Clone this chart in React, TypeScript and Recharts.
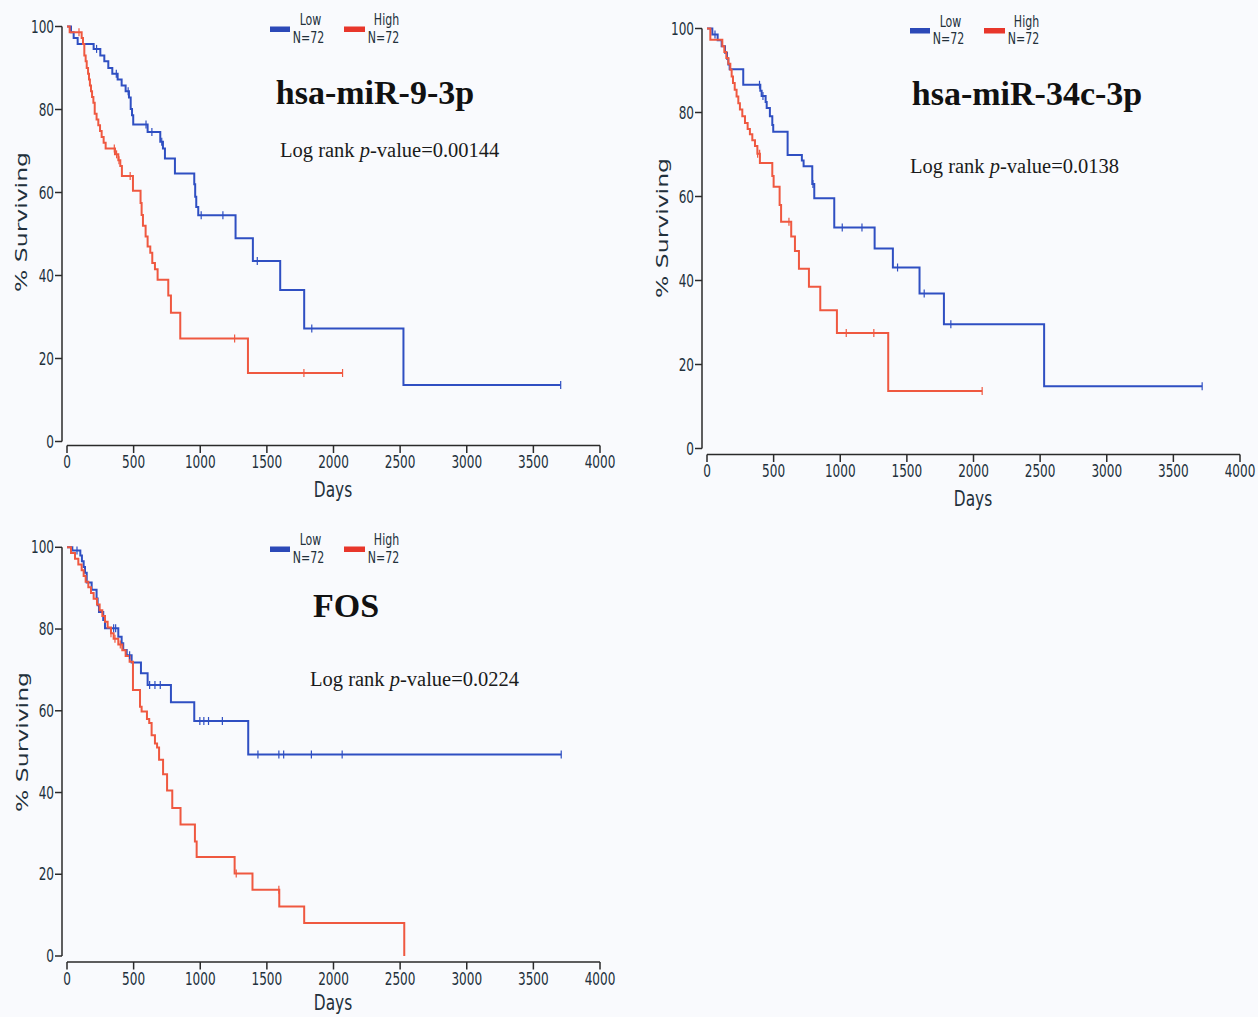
import React from 'react';
import { ComposedChart, Line, Scatter, XAxis, YAxis, Label } from 'recharts';

const DAY_TICKS = [0, 500, 1000, 1500, 2000, 2500, 3000, 3500, 4000];
const PCT_TICKS = [0, 20, 40, 60, 80, 100];

// Kaplan-Meier steps: [day, % surviving from that day on]
const mir9Low = [
  [0, 100], [30, 98.6], [50, 97.2], [80, 95.8], [200, 94.6], [250, 93.0], [280, 91.6], [310, 90.0],
  [340, 88.6], [380, 87.2], [410, 85.8], [440, 84.4], [465, 82.9], [478, 80.1], [488, 78.6], [497, 76.4],
  [605, 74.6], [700, 72.2], [720, 70.6], [735, 68.2], [810, 64.6], [955, 62.0], [962, 59.0], [970, 56.5],
  [985, 54.5], [1265, 49.0], [1395, 43.5], [1600, 36.5], [1780, 27.2], [2525, 13.6], [3705, 13.6],
];
const mir9High = [
  [0, 100], [20, 98.6], [110, 97.2], [120, 95.8], [130, 93.0], [140, 91.6], [148, 90.0], [158, 88.6],
  [165, 87.2], [172, 85.8], [180, 84.4], [188, 83.0], [198, 81.6], [208, 79.0], [222, 77.6], [235, 76.2],
  [248, 74.8], [260, 73.4], [275, 72.0], [290, 70.6], [360, 69.2], [385, 67.8], [400, 66.4], [412, 64.0],
  [495, 60.4], [552, 57.5], [560, 54.6], [570, 52.0], [590, 49.4], [605, 47.0], [625, 45.5], [640, 43.0],
  [660, 41.5], [680, 39.0], [760, 35.2], [780, 31.0], [850, 24.8], [1358, 16.5], [2068, 16.5],
];
const mir9LowCensor = [222, 370, 459, 593, 637, 711, 1007, 1170, 1428, 1837, 3705];
const mir9HighCensor = [90, 355, 372, 390, 474, 1258, 1778, 2068];

const mir34Low = [
  [0, 100], [40, 98.6], [80, 97.2], [110, 95.8], [135, 94.2], [150, 92.8], [160, 91.4], [170, 90.3],
  [272, 86.6], [400, 85.2], [410, 83.9], [440, 82.5], [448, 81.1], [472, 79.1], [490, 77.0], [497, 75.4],
  [605, 69.9], [712, 68.6], [725, 67.2], [790, 63.0], [805, 59.6], [955, 52.6], [1258, 47.6], [1395, 43.1],
  [1595, 36.9], [1778, 29.6], [2530, 14.8], [3716, 14.8],
];
const mir34High = [
  [0, 100], [25, 97.3], [115, 95.8], [130, 94.4], [145, 93.0], [160, 91.6], [175, 90.2], [185, 88.6],
  [195, 87.0], [208, 85.4], [222, 83.8], [235, 82.2], [247, 80.7], [265, 79.1], [285, 77.5], [305, 76.1],
  [322, 74.8], [340, 73.4], [360, 72.0], [378, 70.2], [397, 68.0], [490, 64.9], [500, 62.3], [545, 58.0],
  [556, 54.0], [632, 50.5], [660, 47.0], [690, 42.8], [765, 38.5], [850, 32.9], [975, 27.5], [1360, 13.7],
  [2065, 13.7],
];
const mir34LowCensor = [60, 394, 420, 795, 1015, 1163, 1430, 1630, 1830, 3716];
const mir34HighCensor = [380, 395, 615, 1045, 1252, 2065];

const fosLow = [
  [0, 100], [40, 99.2], [100, 98.0], [112, 96.6], [125, 95.2], [135, 93.8], [148, 91.4], [185, 89.6],
  [222, 87.5], [230, 85.8], [240, 84.2], [272, 82.2], [285, 80.2], [385, 78.1], [410, 76.5], [422, 74.9],
  [448, 73.6], [485, 71.8], [555, 69.2], [605, 66.3], [780, 62.1], [955, 57.5], [1360, 49.3], [3709, 49.3],
];
const fosHigh = [
  [0, 100], [30, 98.6], [60, 97.2], [85, 95.8], [110, 94.4], [125, 93.0], [140, 91.6], [160, 90.2],
  [180, 88.8], [200, 87.4], [225, 86.0], [245, 84.6], [265, 83.2], [285, 81.8], [305, 80.4], [330, 79.0],
  [350, 77.6], [385, 76.2], [415, 74.8], [440, 73.4], [470, 72.0], [495, 65.1], [548, 61.0], [560, 59.8],
  [600, 58.0], [617, 57.0], [635, 54.0], [660, 52.0], [676, 51.0], [691, 48.0], [721, 44.5], [751, 40.5],
  [790, 36.2], [852, 32.2], [960, 28.0], [973, 24.2], [1258, 20.2], [1392, 16.2], [1593, 12.1], [1780, 8.1],
  [2531, 0],
];
const fosLowCensor = [75, 350, 365, 470, 620, 660, 700, 997, 1027, 1062, 1166, 1433, 1590, 1626, 1834, 2065, 3709];
const fosHighCensor = [330, 360, 400, 1270, 1590];

const BLUE = '#2f4fc2';
const RED = '#ef5840';
const AXIS = '#2a2a2a';
const TICK_TEXT = '#22303b';
const BG = '#f9fafd';
const SANS = "'DejaVu Sans', Verdana, sans-serif";
const SERIF = "'Liberation Serif', 'Times New Roman', serif";
const SQUEEZE = 0.71;
const Y_W = 50;
const X_H = 55;

const toPts = (steps: number[][]) => steps.map(([t, s]) => ({ t, s }));
const survivalAt = (steps: number[][], day: number) => {
  let v = steps[0][1];
  for (const [t, s] of steps) if (t <= day) v = s;
  return v;
};
const censorPts = (steps: number[][], days: number[]) => days.map((t) => ({ t, s: survivalAt(steps, t) }));

const panels = [
  {
    title: 'hsa-miR-9-3p', p: '0.00144', low: mir9Low, high: mir9High, lowC: mir9LowCensor, highC: mir9HighCensor,
    box: { x: 0, y: 0, w: 630, h: 515 },
    plot: { left: 62, x0: 67, x1: 600, y100: 26.5, y0: 441.5, axisY: 445.5 },
    yLabel: { x: 21, y: 222 }, daysY: 496.5,
    titleAt: { x: 375, y: 104 }, pAt: { x: 280, y: 157 }, legend: { dx: 0, dy: 0 },
  },
  {
    title: 'hsa-miR-34c-3p', p: '0.0138', low: mir34Low, high: mir34High, lowC: mir34LowCensor, highC: mir34HighCensor,
    box: { x: 640, y: 0, w: 618, h: 520 },
    plot: { left: 702, x0: 707, x1: 1240, y100: 28.5, y0: 448.5, axisY: 454.5 },
    yLabel: { x: 22, y: 228 }, daysY: 506,
    titleAt: { x: 1027, y: 105 }, pAt: { x: 910, y: 173 }, legend: { dx: 640, dy: 1.5 },
  },
  {
    title: 'FOS', p: '0.0224', low: fosLow, high: fosHigh, lowC: fosLowCensor, highC: fosHighCensor,
    box: { x: 0, y: 515, w: 630, h: 502 },
    plot: { left: 62, x0: 67, x1: 600, y100: 547.3, y0: 956, axisY: 962 },
    yLabel: { x: 22, y: 227 }, daysY: 495,
    titleAt: { x: 346, y: 616.5 }, pAt: { x: 310, y: 686 }, legend: { dx: 0, dy: 520 },
  },
];

const XTick = (props: any) => (
  <g transform={`translate(${props.x},${props.y})`}>
    <text transform={`scale(${SQUEEZE},1)`} textAnchor="middle" dy="0.71em" fontSize={17} fontFamily={SANS} fill={TICK_TEXT}>
      {props.payload.value}
    </text>
  </g>
);

const YTick = (props: any) => (
  <g transform={`translate(${props.x},${props.y})`}>
    <text transform={`scale(${SQUEEZE},1)`} textAnchor="end" dy="0.36em" fontSize={17} fontFamily={SANS} fill={TICK_TEXT}>
      {props.payload.value}
    </text>
  </g>
);

const censorShape = (color: string) => (props: any) => (
  <line x1={props.cx} x2={props.cx} y1={props.cy - 4} y2={props.cy + 4} stroke={color} strokeWidth={1.2} />
);

function Panel({ cfg }: { cfg: (typeof panels)[number] }) {
  const { box, plot } = cfg;
  const margin = {
    top: plot.y100 - box.y,
    left: plot.left - box.x - Y_W,
    right: box.x + box.w - plot.x1,
    bottom: box.y + box.h - plot.axisY - X_H,
  };
  const padLeft = plot.x0 - plot.left;
  const padBottom = plot.axisY - plot.y0;
  return (
    <div style={{ position: 'absolute', left: box.x, top: box.y }}>
      <ComposedChart width={box.w} height={box.h} margin={margin}>
        <XAxis
          dataKey="t"
          type="number"
          domain={[0, 4000]}
          ticks={DAY_TICKS}
          interval={0}
          padding={{ left: padLeft, right: 0 }}
          height={X_H}
          tickSize={7.5}
          tickMargin={3}
          tick={<XTick />}
          axisLine={{ stroke: AXIS, strokeWidth: 1.5, strokeDasharray: `0 ${padLeft} 3000` }}
          tickLine={{ stroke: AXIS, strokeWidth: 1.5 }}
        >
          <Label
            value="Days"
            content={() => (
              <text
                transform={`translate(333,${cfg.daysY}) scale(0.7,1)`}
                textAnchor="middle"
                fontSize={22}
                fontFamily={SANS}
                fill={TICK_TEXT}
              >
                Days
              </text>
            )}
          />
        </XAxis>
        <YAxis
          type="number"
          domain={[0, 100]}
          ticks={PCT_TICKS}
          interval={0}
          padding={{ top: 0, bottom: padBottom }}
          width={Y_W}
          tickSize={7}
          tickMargin={1}
          tick={<YTick />}
          axisLine={{ stroke: AXIS, strokeWidth: 1.5, strokeDasharray: `${plot.y0 - plot.y100} 3000` }}
          tickLine={{ stroke: AXIS, strokeWidth: 1.5 }}
        >
          <Label
            value="% Surviving"
            content={() => (
              <text
                transform={`translate(${cfg.yLabel.x},${cfg.yLabel.y}) rotate(-90) scale(1,0.68)`}
                textAnchor="middle"
                dominantBaseline="central"
                fontSize={23.5}
                fontFamily={SANS}
                fill={TICK_TEXT}
              >
                % Surviving
              </text>
            )}
          />
        </YAxis>
        <Line data={toPts(cfg.low)} dataKey="s" type="stepAfter" stroke={BLUE} strokeWidth={2} dot={false} isAnimationActive={false} />
        <Line data={toPts(cfg.high)} dataKey="s" type="stepAfter" stroke={RED} strokeWidth={2} dot={false} isAnimationActive={false} />
        <Scatter data={censorPts(cfg.low, cfg.lowC)} dataKey="s" shape={censorShape(BLUE)} isAnimationActive={false} />
        <Scatter data={censorPts(cfg.high, cfg.highC)} dataKey="s" shape={censorShape(RED)} isAnimationActive={false} />
      </ComposedChart>
    </div>
  );
}

function Legendish({ dx, dy }: { dx: number; dy: number }) {
  const t = (x: number, y: number, s: string) => (
    <text transform={`translate(${x + dx},${y + dy}) scale(${SQUEEZE},1)`} textAnchor="middle" fontSize={15.5} fontFamily={SANS} fill={TICK_TEXT}>
      {s}
    </text>
  );
  return (
    <g>
      <rect x={270 + dx} y={26.5 + dy} width={20} height={5.5} fill="#2c49b8" />
      {t(310.5, 25, 'Low')}
      {t(308.5, 42.5, 'N=72')}
      <rect x={344 + dx} y={26.5 + dy} width={21} height={5.5} fill="#e8362b" />
      {t(386.5, 25, 'High')}
      {t(383.5, 42.5, 'N=72')}
    </g>
  );
}

export default function App() {
  return (
    <div style={{ position: 'absolute', left: 0, top: 0, width: 1258, height: 1017, background: BG, overflow: 'hidden' }}>
      {panels.map((cfg) => (
        <Panel key={cfg.title} cfg={cfg} />
      ))}
      <svg width={1258} height={1017} style={{ position: 'absolute', left: 0, top: 0, pointerEvents: 'none' }}>
        {panels.map((cfg) => (
          <g key={cfg.title}>
            <Legendish dx={cfg.legend.dx} dy={cfg.legend.dy} />
            <text x={cfg.titleAt.x} y={cfg.titleAt.y} textAnchor="middle" fontSize={34} fontWeight="bold" fontFamily={SERIF} fill="#111">
              {cfg.title}
            </text>
            <text x={cfg.pAt.x} y={cfg.pAt.y} fontSize={20.5} fontFamily={SERIF} fill="#1a1a1a">
              Log rank <tspan fontStyle="italic">p</tspan>-value={cfg.p}
            </text>
          </g>
        ))}
      </svg>
    </div>
  );
}
